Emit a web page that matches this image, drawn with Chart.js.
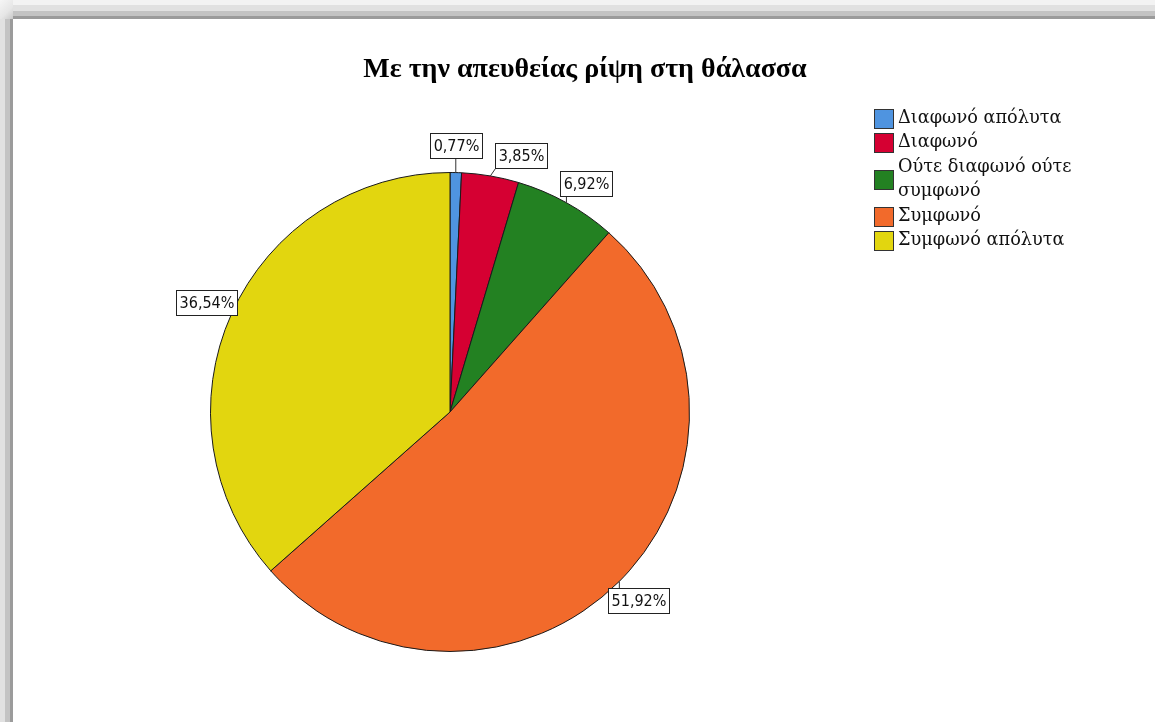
<!DOCTYPE html>
<html>
<head>
<meta charset="utf-8">
<script src="https://cdn.jsdelivr.net/npm/chart.js@4.4.1/dist/chart.umd.min.js"></script>
<style>
  html, body { margin: 0; padding: 0; background: #fff; }
  body { width: 1155px; height: 722px; position: relative; overflow: hidden; }
  #c { position: absolute; left: 0; top: 0; }
  .top { position: absolute; left: 0; top: 0; width: 1155px; height: 19px;
    background: linear-gradient(to bottom, #f3f3f3 0px, #f3f3f3 5px, #e1e1e1 5px, #e1e1e1 11px, #c3c3c3 11px, #c3c3c3 16px, #9b9b9b 16px, #9b9b9b 19px); }
  .left { position: absolute; left: 0; top: 0; width: 13px; height: 722px;
    background: linear-gradient(to right, #e1e1e1 0px, #e1e1e1 5px, #c3c3c3 5px, #c3c3c3 10px, #9b9b9b 10px, #9b9b9b 13px); }
  .corner { position: absolute; left: 0; top: 0; width: 13px; height: 19px;
    background: linear-gradient(135deg, #f6f6f6 0%, #e6e6e6 60%, #c8c8c8 100%); }
</style>
</head>
<body>
<canvas id="c" width="1155" height="722"></canvas>
<div class="top"></div>
<div class="left"></div>
<div class="corner"></div>
<script>
const titleText = 'Με την απευθείας ρίψη στη θάλασσα';
const categories = ['Διαφωνό απόλυτα', 'Διαφωνό', 'Ούτε διαφωνό ούτε συμφωνό', 'Συμφωνό', 'Συμφωνό απόλυτα'];
const percentages = [0.77, 3.85, 6.92, 51.92, 36.54];
const sliceColors = ['#4f94e0', '#d50032', '#238122', '#f26a2b', '#e2d60f'];

function fmt(v) { return v.toFixed(2).replace('.', ',') + '%'; }

const LABEL_FONT = "16px 'DejaVu Sans Condensed', 'DejaVu Sans', sans-serif";
const LEGEND_FONT = "17.7px 'DejaVu Serif', serif";
const TITLE_FONT = "bold 28px 'Liberation Serif', 'Times New Roman', serif";

const decorPlugin = {
  id: 'decor',
  afterDraw(chart) {
    const ctx = chart.ctx;
    ctx.save();
    // Title
    ctx.font = TITLE_FONT;
    ctx.fillStyle = '#000';
    ctx.textAlign = 'center';
    ctx.textBaseline = 'middle';
    ctx.fillText(titleText, 585, 70);

    // Data labels with leader lines
    const meta = chart.getDatasetMeta(0);
    const placed = [];
    ctx.font = LABEL_FONT;
    meta.data.forEach((arc, i) => {
      const p = arc.getProps(['x', 'y', 'startAngle', 'endAngle', 'outerRadius'], true);
      let mid = (p.startAngle + p.endAngle) / 2;
      const text = fmt(percentages[i]);
      const w = Math.round(ctx.measureText(text).width) + 6;
      const h = 25;
      const dist = p.outerRadius + 27;
      let box;
      let ang = mid;
      for (let k = 0; k < 60; k++) {
        const cx = p.x + Math.cos(ang) * dist;
        const cy = p.y + Math.sin(ang) * dist;
        box = { l: Math.round(cx - w / 2) + 0.5, t: Math.round(cy - h / 2) + 0.5, w, h };
        const gap = 12;
        const hit = placed.some(b => !(box.l >= b.l + b.w + gap || box.l + box.w + gap <= b.l ||
                                       box.t >= b.t + b.h + gap || box.t + box.h + gap <= b.t));
        if (!hit) break;
        ang += 0.01;
      }
      placed.push(box);
      // leader
      const ex = p.x + Math.cos(mid) * p.outerRadius;
      const ey = p.y + Math.sin(mid) * p.outerRadius;
      const nx = Math.min(Math.max(ex, box.l), box.l + box.w);
      const ny = Math.min(Math.max(ey, box.t), box.t + box.h);
      ctx.strokeStyle = '#333';
      ctx.lineWidth = 1;
      ctx.beginPath();
      ctx.moveTo(ex, ey);
      ctx.lineTo(nx, ny);
      ctx.stroke();
      // box
      ctx.fillStyle = '#fff';
      ctx.fillRect(box.l, box.t, box.w, box.h);
      ctx.strokeStyle = '#222';
      ctx.strokeRect(box.l, box.t, box.w, box.h);
      ctx.fillStyle = '#111';
      ctx.textAlign = 'center';
      ctx.textBaseline = 'middle';
      ctx.fillText(text, box.l + box.w / 2, box.t + box.h / 2 + 1);
    });

    // Legend
    ctx.font = LEGEND_FONT;
    ctx.textAlign = 'left';
    ctx.textBaseline = 'middle';
    const lx = 874, lineH = 24.5, maxW = 190;
    let y = 106;
    categories.forEach((label, i) => {
      const words = label.split(' ');
      const lines = [];
      let cur = '';
      words.forEach(wd => {
        const t = cur ? cur + ' ' + wd : wd;
        if (ctx.measureText(t).width > maxW && cur) { lines.push(cur); cur = wd; }
        else cur = t;
      });
      lines.push(cur);
      const blockH = lines.length * lineH;
      const cy = y + blockH / 2;
      ctx.fillStyle = sliceColors[i];
      ctx.fillRect(lx + 0.5, Math.round(cy - 9.5) + 0.5, 19, 19);
      ctx.strokeStyle = '#333';
      ctx.lineWidth = 1;
      ctx.strokeRect(lx + 0.5, Math.round(cy - 9.5) + 0.5, 19, 19);
      ctx.fillStyle = '#111';
      lines.forEach((ln, j) => {
        ctx.fillText(ln, lx + 24, y + lineH * j + lineH / 2);
      });
      y += blockH;
    });
    ctx.restore();
  }
};

new Chart(document.getElementById('c'), {
  type: 'pie',
  data: {
    labels: categories,
    datasets: [{
      data: percentages,
      backgroundColor: sliceColors,
      borderColor: '#1a1a1a',
      borderWidth: 1
    }]
  },
  options: {
    responsive: false,
    animation: false,
    devicePixelRatio: 1,
    layout: { padding: { left: 210, right: 465, top: 172, bottom: 70 } },
    plugins: {
      legend: { display: false },
      title: { display: false },
      tooltip: { enabled: false }
    }
  },
  plugins: [decorPlugin]
});
</script>
</body>
</html>
